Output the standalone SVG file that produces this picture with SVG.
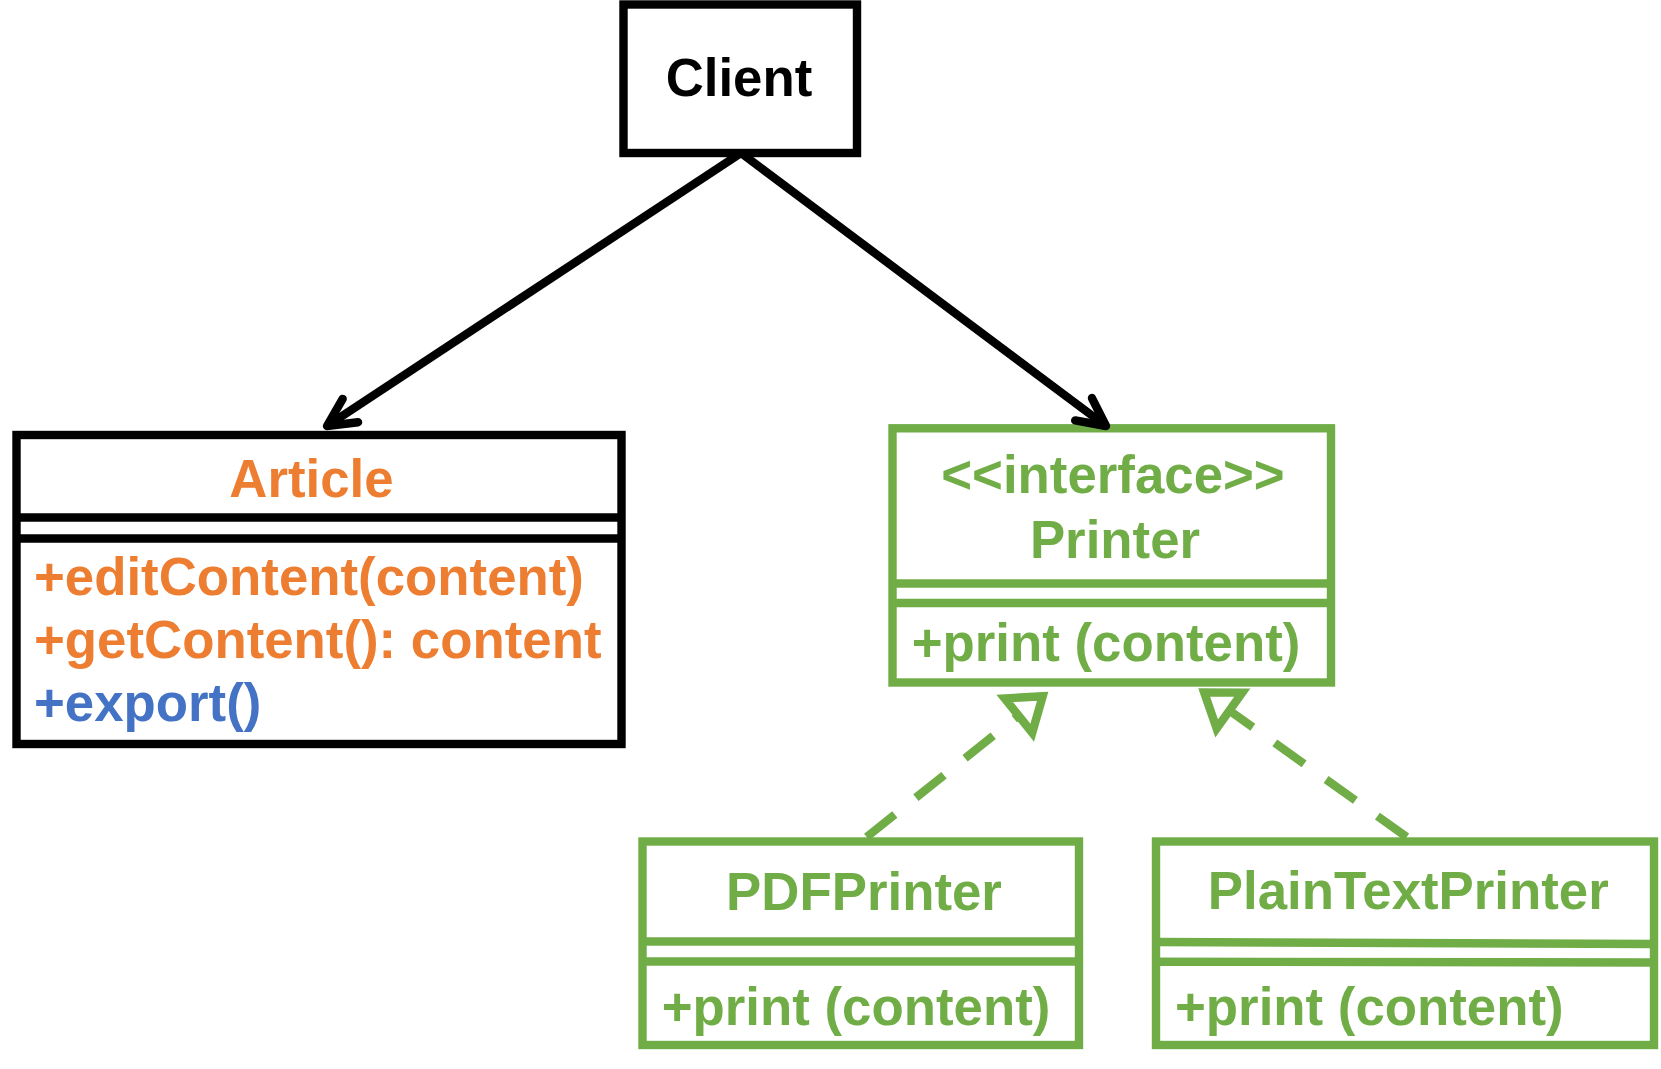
<svg xmlns="http://www.w3.org/2000/svg" width="1661" height="1069" viewBox="0 0 1661 1069">
<style>
  text { font-family: "Liberation Sans", Arial, sans-serif; font-weight: bold; font-size: 52.8px; }
  .box { fill: #ffffff; stroke-width: 8.4; }
  .div { stroke-width: 8.4; fill: none; }
  .k { stroke: #000000; }
  .g { stroke: #70AD47; }
  .to { fill: #ED7D31; }
  .tb { fill: #4472C4; }
  .tg { fill: #70AD47; }
  .tk { fill: #000000; }
  .assoc { stroke: #000000; stroke-width: 8.4; fill: none; marker-end: url(#open); }
  .real { stroke: #70AD47; stroke-width: 8.4; fill: none; stroke-dasharray: 36 27; marker-end: url(#tri); }
</style>
<defs>
  <marker id="open" markerUnits="userSpaceOnUse" orient="auto" refX="0" refY="0" markerWidth="60" markerHeight="60" viewBox="-40 -30 60 60" overflow="visible">
    <path d="M-28,-14 L0,0 L-28,14" fill="none" stroke="#000000" stroke-width="8.4" stroke-linecap="round" stroke-linejoin="round"/>
  </marker>
  <marker id="tri" markerUnits="userSpaceOnUse" orient="auto" refX="0" refY="0" markerWidth="70" markerHeight="70" viewBox="-45 -35 70 70" overflow="visible">
    <path d="M0,0 L-31,-22 L-31,22 Z" fill="#ffffff" stroke="#70AD47" stroke-width="8.4" stroke-linejoin="miter"/>
  </marker>
</defs>

<g id="client">
  <rect class="box k" x="623.5" y="4.5" width="233.5" height="148.5" stroke-width="9"/>
  <text class="tk" x="739" y="96" text-anchor="middle">Client</text>
</g>

<g id="article">
  <rect class="box k" x="16.5" y="435" width="605" height="309"/>
  <line class="div k" x1="16.5" y1="517.5" x2="621.5" y2="517.5"/>
  <line class="div k" x1="16.5" y1="538.5" x2="621.5" y2="538.5"/>
  <text class="to" x="311.5" y="497" text-anchor="middle">Article</text>
  <text class="to" x="34" y="595">+editContent(content)</text>
  <text class="to" x="34" y="658">+getContent(): content</text>
  <text class="tb" x="34" y="721">+export()</text>
</g>

<g id="printer">
  <rect class="box g" x="892.5" y="428.3" width="438.5" height="254.2"/>
  <line class="div g" x1="892.5" y1="583.5" x2="1331" y2="583.5"/>
  <line class="div g" x1="892.5" y1="603" x2="1331" y2="603"/>
  <text class="tg" x="1113" y="493" text-anchor="middle">&lt;&lt;interface&gt;&gt;</text>
  <text class="tg" x="1115" y="558" text-anchor="middle">Printer</text>
  <text class="tg" x="911.7" y="661">+print (content)</text>
</g>

<g id="pdfprinter">
  <rect class="box g" x="642.5" y="841.5" width="436.5" height="203.5"/>
  <line class="div g" x1="642.5" y1="941.5" x2="1079" y2="941.5"/>
  <line class="div g" x1="642.5" y1="961.5" x2="1079" y2="961.5"/>
  <text class="tg" x="864" y="910" text-anchor="middle">PDFPrinter</text>
  <text class="tg" x="661.7" y="1025">+print (content)</text>
</g>

<g id="plaintextprinter">
  <rect class="box g" x="1156" y="841.5" width="498" height="203.5"/>
  <line class="div g" x1="1156" y1="942" x2="1654" y2="944"/>
  <line class="div g" x1="1156" y1="961.7" x2="1654" y2="962.5"/>
  <text class="tg" x="1408.3" y="909" text-anchor="middle">PlainTextPrinter</text>
  <text class="tg" x="1175" y="1025">+print (content)</text>
</g>

<g id="connectors">
  <line class="assoc" x1="741" y1="153" x2="327" y2="426"/>
  <line class="assoc" x1="741" y1="153" x2="1106" y2="426"/>
  <line class="real" x1="866.7" y1="837" x2="1042.7" y2="696.2"/>
  <line class="real" x1="1406.7" y1="837" x2="1204.2" y2="692.5"/>
</g>
</svg>
